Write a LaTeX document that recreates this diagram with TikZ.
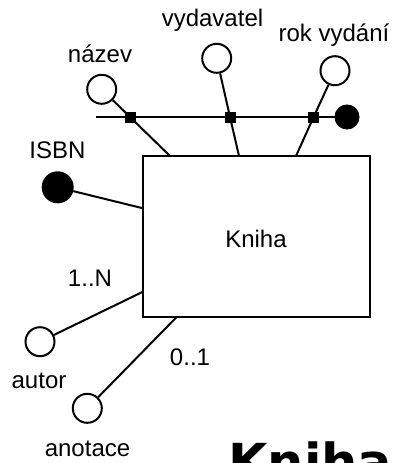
\documentclass[tikz,border=0pt]{standalone}
\usepackage{fontspec}
\setmainfont{Liberation Sans}
\newfontfamily\bigfont{DejaVu Sans}
\begin{document}
\begin{tikzpicture}[x=1pt,y=-1pt,
  conn/.style={line width=2pt},
  attr/.style={circle,draw,line width=2pt,fill=white,minimum size=29pt,inner sep=0pt},
  keyattr/.style={circle,draw,line width=2pt,fill=black,minimum size=30pt,inner sep=0pt},
  sq/.style={rectangle,fill=black,minimum size=11pt,inner sep=0pt},
  lbl/.style={anchor=base,inner sep=0pt,font=\fontsize{24}{27}\selectfont}]
\useasboundingbox (0,0) rectangle (398,463);
% entity
\node[draw,line width=2pt,minimum width=227pt,minimum height=161pt,inner sep=0pt] (book) at (256.5,236.5) {};
\node[lbl] (knihalbl) at (256,247) {Kniha};
% edge coordinates on the box
\coordinate (t1) at (170,156);
\coordinate (t2) at (239,156);
\coordinate (t3) at (296,156);
\coordinate (l1) at (143,208.3);
\coordinate (l2) at (143,291.7);
\coordinate (b1) at (176.7,317);
\coordinate (h0) at (96,117);
% composite key line
\node[keyattr,minimum size=23pt] (kdot) at (347,117) {};
\draw[conn] (h0) -- (kdot);
% attributes
\node[attr] (nazev) at (101.7,89.3) {};
\node[attr] (vyd) at (216.7,58.3) {};
\node[attr] (rok) at (335,70.7) {};
\node[keyattr] (isbn) at (57.7,187.3) {};
\node[attr] (autor) at (40,341.7) {};
\node[attr] (anot) at (87.3,408.3) {};
\node[sq] (s1) at (130,117) {};
\node[sq] (s2) at (230,117) {};
\node[sq] (s3) at (313.6,117) {};
\draw[conn] (nazev) -- (s1.center) -- (t1);
\draw[conn] (vyd) -- (s2.center) -- (t2);
\draw[conn] (rok) -- (s3.center) -- (t3);
\draw[conn] (isbn) -- (l1);
\draw[conn] (autor) -- (l2);
\draw[conn] (anot) -- (b1);
\node[sq] at (s1) {};
\node[sq] at (s2) {};
\node[sq] at (s3) {};
% labels
\node[lbl] (ln) at (100,62) {název};
\node[lbl] (lv) at (212.5,27) {vydavatel};
\node[lbl] (lr) at (334,41.5) {rok vydání};
\node[lbl] (li) at (57.5,158.3) {ISBN};
\node[lbl] (l1n) at (90,286.7) {1..N};
\node[lbl] (la) at (39,388) {autor};
\node[lbl] (l01) at (190,365) {0..1};
\node[lbl] (lan) at (87.5,456.7) {anotace};
% big title
\node[anchor=base west,inner sep=0pt,font=\bigfont\bfseries\fontsize{51}{53}\selectfont] (title) at (228,480.5) {Kniha};
\end{tikzpicture}
\end{document}
